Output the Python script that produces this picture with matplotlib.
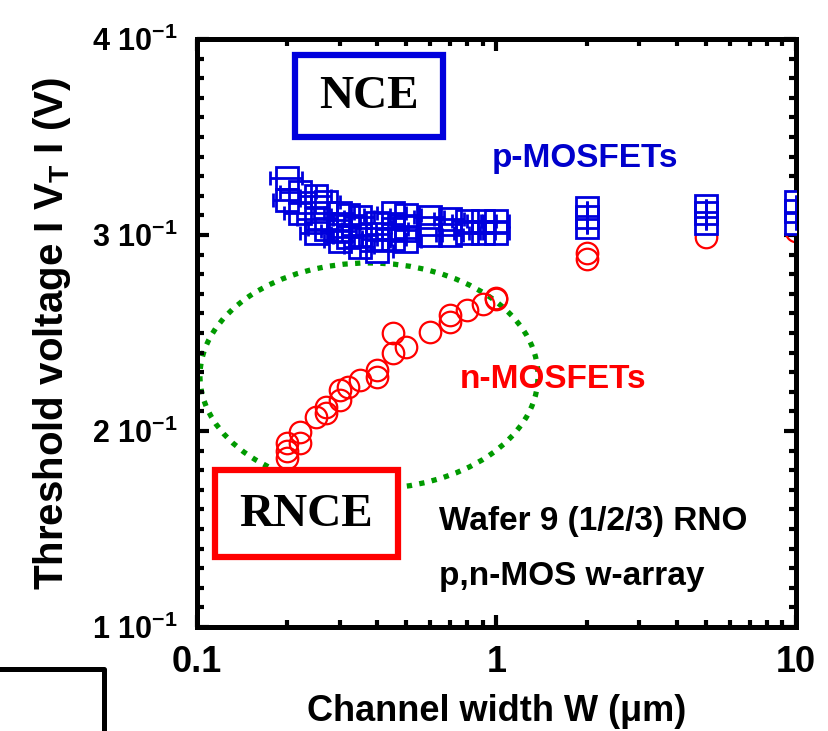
import matplotlib
matplotlib.use("Agg")
import matplotlib.pyplot as plt
from matplotlib.patches import Rectangle, Ellipse
from matplotlib.lines import Line2D
from matplotlib.ticker import FixedLocator, NullFormatter

plt.rcParams['font.family'] = ['Liberation Sans', 'DejaVu Sans']
plt.rcParams['font.weight'] = 'bold'
plt.rcParams['mathtext.fontset'] = 'custom'
plt.rcParams['mathtext.rm'] = 'Liberation Sans:bold'
plt.rcParams['mathtext.bf'] = 'Liberation Sans:bold'
plt.rcParams['mathtext.default'] = 'bf'

# p-MOSFET threshold voltages (squares with horizontal error bars)
p_w = [0.2, 0.2, 0.22, 0.22, 0.25, 0.25, 0.25, 0.27, 0.27, 0.3, 0.3, 0.3,
       0.32, 0.32, 0.35, 0.35, 0.35, 0.4, 0.4, 0.4, 0.45, 0.45, 0.45,
       0.5, 0.5, 0.5, 0.6, 0.6, 0.7, 0.7, 0.8, 0.8, 0.9, 0.9, 1.0, 1.0,
       2, 2, 2, 5, 5, 5, 10, 10, 10]
p_vt = [0.329, 0.318, 0.322, 0.311, 0.320, 0.308, 0.301, 0.317, 0.303,
        0.311, 0.302, 0.297, 0.310, 0.299, 0.309, 0.300, 0.294,
        0.306, 0.298, 0.292, 0.311, 0.303, 0.298, 0.310, 0.304, 0.297,
        0.309, 0.300, 0.308, 0.300, 0.307, 0.301, 0.307, 0.301, 0.307, 0.301,
        0.314, 0.309, 0.304, 0.315, 0.311, 0.306, 0.317, 0.312, 0.306]
p_werr = [0.025, 0.02, 0.03, 0.025, 0.03, 0.035, 0.03, 0.03, 0.035,
          0.035, 0.04, 0.035, 0.04, 0.035, 0.04, 0.045, 0.04,
          0.05, 0.045, 0.05, 0.05, 0.055, 0.05, 0.06, 0.055, 0.06,
          0.07, 0.06, 0.08, 0.07, 0.09, 0.08, 0.1, 0.09, 0.1, 0.1,
          0, 0, 0, 0, 0, 0, 0, 0, 0]

# n-MOSFET threshold voltages (circles)
n_w = [0.2, 0.2, 0.2, 0.22, 0.22, 0.25, 0.27, 0.27, 0.3, 0.3, 0.32, 0.35,
       0.4, 0.4, 0.45, 0.45, 0.5, 0.6, 0.7, 0.7, 0.8, 0.9, 1.0, 1.0,
       2, 2, 5, 10]
n_vt = [0.186, 0.190, 0.194, 0.1995, 0.194, 0.207, 0.209, 0.212, 0.216, 0.221,
        0.2224, 0.226, 0.231, 0.2276, 0.240, 0.250, 0.243, 0.2505, 0.2556,
        0.259, 0.2617, 0.265, 0.268, 0.2673, 0.288, 0.291, 0.299, 0.302]

yticks = [0.1, 0.2, 0.3, 0.4]
ytick_labels = ['1 10$^{-1}$', '2 10$^{-1}$', '3 10$^{-1}$', '4 10$^{-1}$']
xticks = [0.1, 1, 10]
xtick_labels = ['0.1', '1', '10']

blue = '#0000dd'
red = '#ff0000'
green = '#009a00'

W, H = 829, 731
fig = plt.figure(figsize=(W / 100, H / 100), dpi=100)
ax = fig.add_axes([197 / W, 1 - 627 / H, 599 / W, 588 / H])

ax.plot(n_w, n_vt, 'o', ms=15.5, mfc='none', mec=red, mew=1.6, zorder=2)
ax.plot(p_w, p_vt, 's', ms=16.5, mfc='white', mec='none', zorder=3)
ax.errorbar(p_w, p_vt, xerr=p_werr, fmt='s', ms=16.5, mfc='none', mec=blue,
            mew=2, ecolor=blue, elinewidth=2, capsize=5, capthick=2, zorder=4)

ax.set_xscale('log')
ax.set_xlim(0.1, 10)
ax.set_ylim(0.1, 0.4)
ax.xaxis.set_major_locator(FixedLocator(xticks))
ax.set_xticklabels(xtick_labels, fontsize=26, fontweight='bold')
ax.xaxis.set_minor_locator(FixedLocator([0.2, 0.3, 0.4, 0.5, 0.6, 0.7, 0.8, 0.9,
                                         2, 3, 4, 5, 6, 7, 8, 9]))
ax.xaxis.set_minor_formatter(NullFormatter())
ax.set_yticks(yticks)
ax.set_yticklabels(ytick_labels, fontsize=22, fontweight='bold')
ax.yaxis.set_minor_locator(FixedLocator([0.1 + 0.01 * i for i in range(31)]))

for s in ax.spines.values():
    s.set_linewidth(3.6)
ax.tick_params(which='both', direction='in', top=True, right=True, width=3)
ax.tick_params(which='major', length=8.5)
ax.tick_params(which='minor', length=5)
ax.tick_params(axis='x', which='major', pad=13)
ax.tick_params(axis='y', which='major', pad=14)

ax.set_xlabel('Channel width W (μm)', fontsize=26, fontweight='bold', labelpad=10)
ax.set_ylabel('Threshold voltage I V$_{T}$ I (V)', fontsize=29, fontweight='bold', labelpad=14)

# dotted ellipse around the RNCE region
ax.add_patch(Ellipse((0.2871, 0.4269), 0.5643, 0.3844, transform=ax.transAxes,
                     fill=False, ec=green, lw=3.8, linestyle=(0, (1, 1.4)),
                     zorder=1, clip_on=False))

def fx(px):
    return px / W

def fy(py):
    return 1 - py / H

fig.add_artist(Rectangle((fx(295), fy(137)), 148 / W, 82 / H, transform=fig.transFigure,
                         fill=True, fc='white', ec=blue, lw=4.5, zorder=5))
fig.text(fx(369), fy(97), 'NCE', family='Liberation Serif', fontsize=34,
         fontweight='bold', ha='center', va='center', zorder=6)
fig.add_artist(Rectangle((fx(215), fy(557)), 183 / W, 87 / H, transform=fig.transFigure,
                         fill=True, fc='white', ec=red, lw=4.5, zorder=5))
fig.text(fx(306), fy(515), 'RNCE', family='Liberation Serif', fontsize=34,
         fontweight='bold', ha='center', va='center', zorder=6)

fig.text(fx(492), fy(167), 'p-MOSFETs', color='#0000cc', fontsize=24,
         fontweight='bold', ha='left', va='baseline')
fig.text(fx(460), fy(388), 'n-MOSFETs', color=red, fontsize=24,
         fontweight='bold', ha='left', va='baseline')
fig.text(fx(439), fy(530), 'Wafer 9 (1/2/3) RNO', fontsize=24,
         fontweight='bold', ha='left', va='baseline')
fig.text(fx(439), fy(585), 'p,n-MOS w-array', fontsize=24,
         fontweight='bold', ha='left', va='baseline')

# cropped frame corner at bottom left
fig.add_artist(Line2D([0, fx(104), fx(104)], [fy(669), fy(669), 0],
                      transform=fig.transFigure, color='black', lw=3.6))

fig.savefig('out.png', dpi=100)
